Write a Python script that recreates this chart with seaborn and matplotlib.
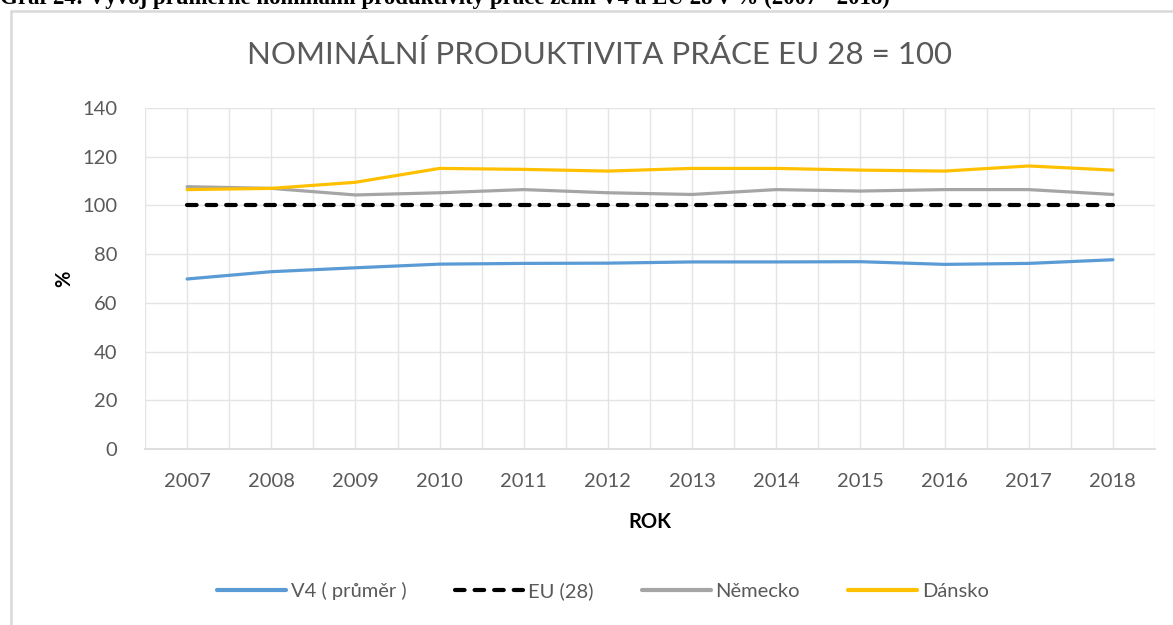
import matplotlib
matplotlib.use("Agg")
import matplotlib.pyplot as plt
import matplotlib.ticker as mticker
import seaborn as sns
import pandas as pd

sns.set_theme(style="white")
plt.rcParams['font.family'] = ['Lato', 'DejaVu Sans']

years = [2007, 2008, 2009, 2010, 2011, 2012, 2013, 2014, 2015, 2016, 2017, 2018]
v4 = [69.8, 72.8, 74.4, 75.9, 76.2, 76.3, 76.8, 76.8, 76.9, 75.8, 76.2, 77.7]
eu = [100, 100, 100, 100, 100, 100, 100, 100, 100, 100, 100, 100]
nemecko = [107.7, 107.0, 104.3, 105.2, 106.5, 105.2, 104.5, 106.5, 105.9, 106.5, 106.5, 104.5]
dansko = [106.5, 107.0, 109.5, 115.2, 114.8, 114.1, 115.2, 115.2, 114.5, 114.1, 116.2, 114.5]

series = ["V4 ( průměr )", "EU (28)", "Německo", "Dánsko"]
colors = ["#5b9bd5", "#000000", "#a5a5a5", "#ffc000"]

df = pd.concat([
    pd.DataFrame({"rok": years, "hodnota": vals, "řada": name})
    for name, vals in zip(series, [v4, eu, nemecko, dansko])
])

fig = plt.figure(figsize=(11.73, 6.25), dpi=100)
ax = fig.add_axes([145 / 1173, 1 - 449 / 625, 1010 / 1173, 341 / 625])

sns.lineplot(data=df, x="rok", y="hodnota", hue="řada", style="řada",
             palette=dict(zip(series, colors)),
             dashes={series[0]: "", series[1]: (2.3, 2.4), series[2]: "", series[3]: ""},
             linewidth=2.3, ax=ax)
for ln in ax.lines:
    ln.set_dash_capstyle("round")
    ln.set_solid_capstyle("round")
ax.lines[1].set_linewidth(3.0)  # EU (28) dashed line is a bit heavier

ax.set_xlim(2006.5, 2018.5)
ax.set_ylim(0, 140)
ax.xaxis.set_major_locator(mticker.FixedLocator(years))
ax.xaxis.set_minor_locator(mticker.MultipleLocator(1, offset=0.5))
ax.yaxis.set_major_locator(mticker.MultipleLocator(20))
ax.grid(True, which="both", axis="x", color="#e4e4e4", lw=1)
ax.grid(True, which="major", axis="y", color="#e4e4e4", lw=1)
ax.tick_params(axis="both", which="both", length=0, labelsize=14.5,
               labelcolor="#595959")
ax.tick_params(axis="x", pad=17)
ax.tick_params(axis="y", pad=20)
for s in ["top", "right", "left"]:
    ax.spines[s].set_visible(False)
ax.spines["bottom"].set_color("#d9d9d9")
ax.spines["bottom"].set_linewidth(1.2)

ax.set_xlabel("ROK", fontsize=14.5, fontweight="bold", color="black", labelpad=16)
ax.set_ylabel("%", fontsize=14.5, fontweight="bold", color="black", labelpad=6)

sns.move_legend(ax, "center", bbox_to_anchor=(603 / 1173, 1 - 591 / 625),
                bbox_transform=fig.transFigure, ncol=4, frameon=False, title=None,
                fontsize=14.5, handlelength=3.4, handletextpad=0.25,
                columnspacing=2.4)
for t in ax.get_legend().get_texts():
    t.set_color("#595959")
for h in ax.get_legend().legend_handles:
    h.set_linewidth(3)
    h.set_dash_capstyle("round")

fig.text(599 / 1173, 1 - 55 / 625, "NOMINÁLNÍ PRODUKTIVITA PRÁCE EU 28 = 100",
         ha="center", va="center", fontsize=22.5, color="#595959")

fig.text(0.0, 1 - 4 / 625,
         "Graf 24: Vývoj průměrné nominální produktivity práce zemí V4 a EU 28 v % (2007 - 2018)",
         ha="left", va="baseline", fontsize=16.5, fontweight="bold",
         family=["Liberation Serif", "DejaVu Serif"], color="black")

# chart area border (left and top edges visible)
fig.add_artist(plt.Line2D([11 / 1173, 11 / 1173], [0, 1 - 11 / 625],
                          transform=fig.transFigure, color="#d9d9d9", lw=1.8))
fig.add_artist(plt.Line2D([11 / 1173, 1], [1 - 11 / 625, 1 - 11 / 625],
                          transform=fig.transFigure, color="#d9d9d9", lw=1.8))

fig.savefig("out.png", dpi=100)
